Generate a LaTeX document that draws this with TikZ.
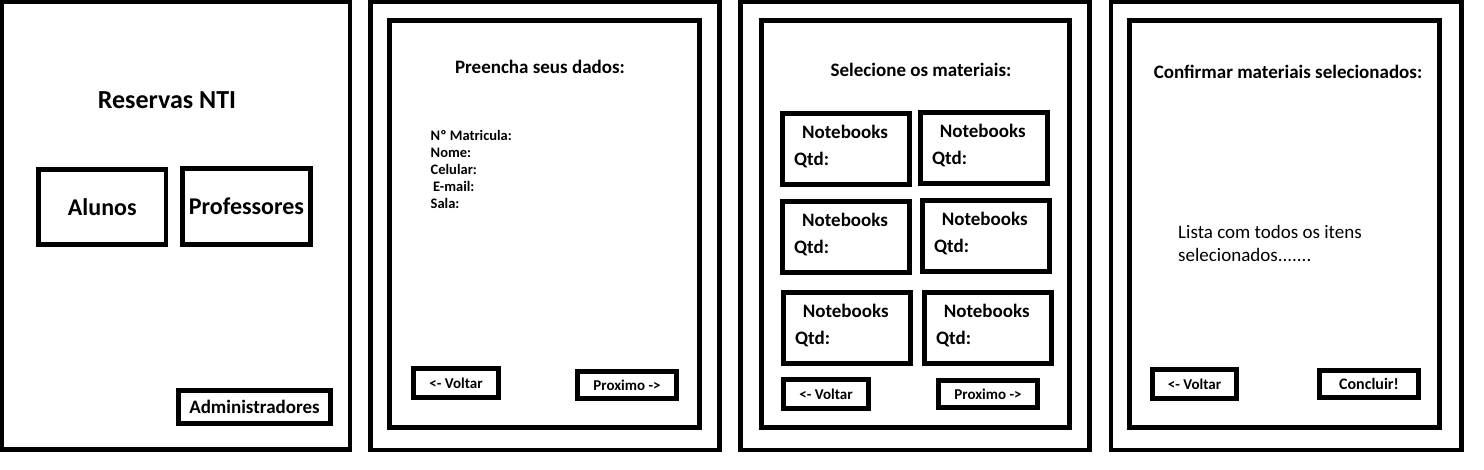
\documentclass[tikz,border=0pt]{standalone}
\usepackage{fontspec}
\setmainfont{Carlito}
\usetikzlibrary{positioning}

\tikzset{
  frame/.style={draw, line width=4.5pt},
  box/.style={draw, line width=4.5pt, inner sep=0pt},
  btn/.style={box, font=\fontsize{15}{18}\selectfont\bfseries},
  head/.style={inner sep=0pt, font=\fontsize{19}{23}\selectfont\bfseries},
  big/.style={inner sep=0pt, font=\fontsize{24}{28}\selectfont\bfseries},
}

\begin{document}
\begin{tikzpicture}[x=1pt, y=-1pt]
  \useasboundingbox (0,0) rectangle (1484,470);
  % screen 1
  \draw[frame] (2,2) rectangle (350,449.5);
  \node[big, font=\fontsize{26}{30}\selectfont\bfseries] (title1) at (167,100) {Reservas NTI};
  \node[box, big, minimum width=127.5pt, minimum height=75pt] (alunos) at (102.25,207) {Alunos};
  \node[box, big, minimum width=128pt, minimum height=76pt] (prof) at (246.5,206.5) {Professores};
  \node[box, head, minimum width=152pt, minimum height=33pt] (admin) at (254.5,407) {Administradores};

  % screen 2
  \draw[frame] (370.5,2) rectangle (719.5,450);
  \draw[frame] (389.5,20.5) rectangle (699.5,427.5);
  \node[head] (title2) at (540,67) {Preencha seus dados:};
  \node[inner sep=0pt, anchor=west, align=left,
    font=\fontsize{14.5}{17}\selectfont\bfseries] (campos) at (430.5,169)
  {Nº Matricula:\\ Nome:\\ Celular:\\ \,E-mail:\\ Sala:};
  \node[btn, minimum width=85pt, minimum height=29pt] (voltar2) at (456,383) {<- Voltar};
  \node[btn, minimum width=99pt, minimum height=27pt] (prox2) at (627,385) {Proximo ->};

  % screen 3
  \draw[frame] (740.5,2) rectangle (1089.5,450);
  \draw[frame] (761.5,20.5) rectangle (1069.5,427.5);
  \node[head] (title3) at (921,70) {Selecione os materiais:};
  \node[box, minimum width=127pt, minimum height=71pt] (nb1) at (846,149) {};
  \node[box, minimum width=127pt, minimum height=71pt] (nb2) at (984,148) {};
  \node[box, minimum width=127pt, minimum height=71pt] (nb3) at (846,237) {};
  \node[box, minimum width=127pt, minimum height=71pt] (nb4) at (986,236) {};
  \node[box, minimum width=127pt, minimum height=71pt] (nb5) at (847,328) {};
  \node[box, minimum width=127pt, minimum height=71pt] (nb6) at (988,328) {};
  \node[head] (nbt1) at (845,132) {Notebooks};
  \node[head] (nbt2) at (982.7,131) {Notebooks};
  \node[head] (nbt3) at (845,220) {Notebooks};
  \node[head] (nbt4) at (984.7,219) {Notebooks};
  \node[head] (nbt5) at (845.7,311) {Notebooks};
  \node[head] (nbt6) at (986.7,311) {Notebooks};
  \node[head, anchor=west] (qtd1) at (794,160) {Qtd:};
  \node[head, anchor=west] (qtd2) at (932,159) {Qtd:};
  \node[head, anchor=west] (qtd3) at (794,248) {Qtd:};
  \node[head, anchor=west] (qtd4) at (934,247) {Qtd:};
  \node[head, anchor=west] (qtd5) at (795,339) {Qtd:};
  \node[head, anchor=west] (qtd6) at (936,339) {Qtd:};
  \node[btn, minimum width=85pt, minimum height=29pt] (voltar3) at (826,394) {<- Voltar};
  \node[btn, minimum width=99pt, minimum height=27pt] (prox3) at (988,394) {Proximo ->};

  % screen 4
  \draw[frame] (1111,2) rectangle (1461.5,450);
  \draw[frame] (1129.5,20.5) rectangle (1439.5,427.5);
  \node[head] (title4) at (1288,72) {Confirmar materiais selecionados:};
  \node[inner sep=0pt, anchor=west, align=left,
    font=\fontsize{19}{23}\selectfont] (lista) at (1178,243.5)
  {Lista com todos os itens\\ selecionados.......};
  \node[btn, minimum width=84pt, minimum height=29pt] (voltar4) at (1194.5,384) {<- Voltar};
  \node[btn, font=\fontsize{16}{19}\selectfont\bfseries,
    minimum width=99pt, minimum height=27pt] (concl) at (1369,384) {Concluir!};
\end{tikzpicture}
\end{document}
